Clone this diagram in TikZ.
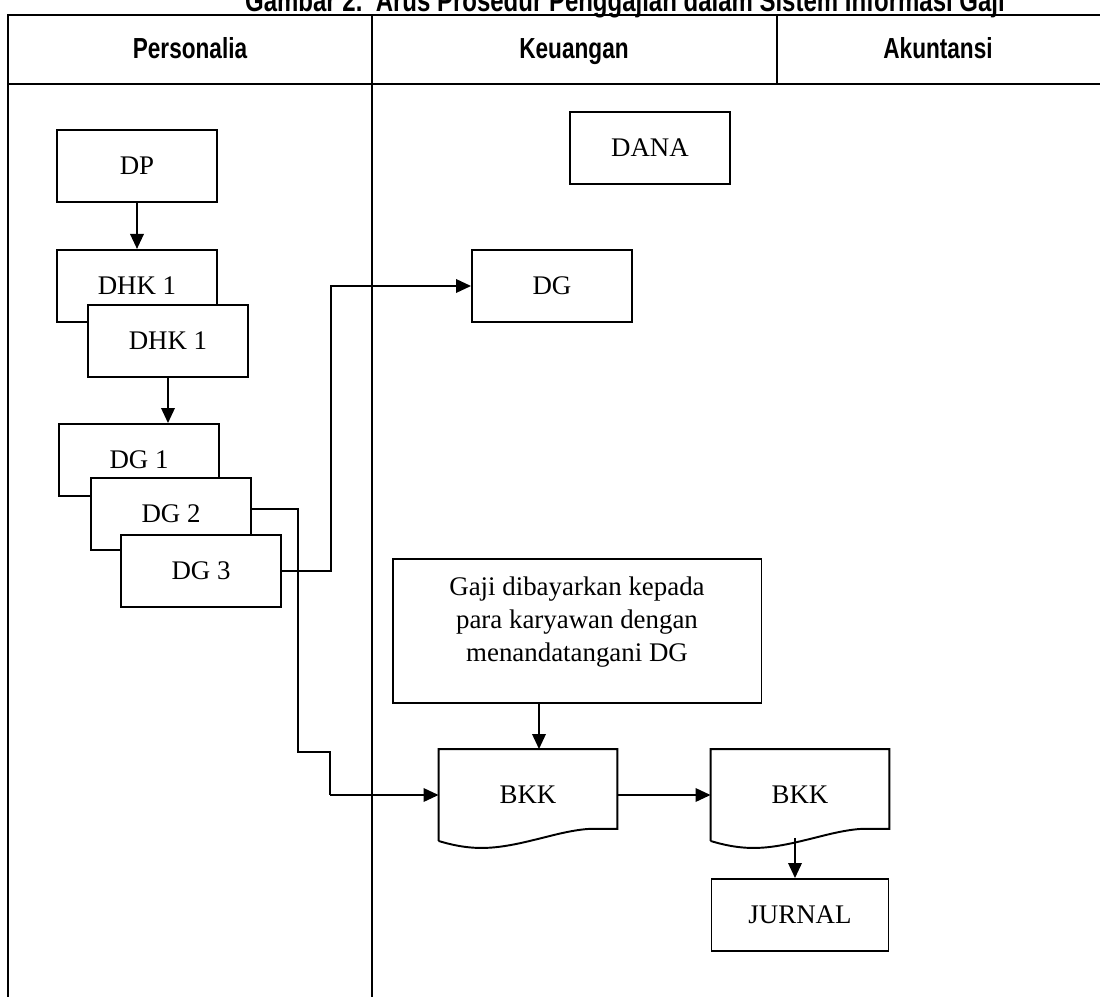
\documentclass[tikz,border=0pt]{standalone}
\usepackage{fontspec}
\setmainfont{Liberation Serif}
\newfontfamily\judulfont[FakeStretch=0.78]{Liberation Sans}
\usetikzlibrary{arrows.meta,positioning,calc}

\tikzset{
  garis/.style={line width=1.1pt},
  kotak/.style={draw,garis,fill=white,minimum width=3.2cm,minimum height=1.44cm,
    inner sep=0pt,font=\fontsize{15.3}{18.8}\selectfont},
  dokumen/.style={kotak,draw=none,fill=none,minimum width=3.54cm,minimum height=1.8cm},
  kolom/.style={anchor=base,font=\judulfont\bfseries\fontsize{16.5}{19}\selectfont},
  tabel/.style={line width=1.7pt},
  panah/.style={garis,-{Triangle[length=0.3cm,width=0.27cm]}}
}

% dokumen shape: flat top, wavy bottom
\newcommand{\dokumenbentuk}[1]{%
  \draw[garis] (#1.south west) -- (#1.north west) -- (#1.north east)
    -- ($(#1.south east)+(0,-12)$) -- ($(#1.south west)+(150,-12)$)
    .. controls ($(#1.south west)+(118,-10)$) and ($(#1.south west)+(80,7)$) .. ($(#1.south west)+(43,7)$)
    .. controls ($(#1.south west)+(25,7)$) and ($(#1.south west)+(10,3)$) .. (#1.south west);
}

\begin{document}
\begin{tikzpicture}[x=0.02cm,y=-0.02cm]
\useasboundingbox (0,0) rectangle (1100,997);

% judul dan tabel
\node[kolom,font=\judulfont\bfseries\fontsize{17.5}{20}\selectfont] (judul) at (625,12)
  {Gambar 2.\ \ Arus Prosedur Penggajian dalam Sistem Informasi Gaji};
\draw[tabel] (1100,15) -- (8,15) -- (8,997);
\draw[tabel] (8,84) -- (1100,84);
\draw[tabel] (372,15) -- (372,997);
\draw[tabel] (777,15) -- (777,84);
\node[kolom] (personalia) at (190,59) {Personalia};
\node[kolom] (keuangan) at (574,59) {Keuangan};
\node[kolom] (akuntansi) at (938,59) {Akuntansi};

% personalia
\node[kotak] (dp) at (137,166) {DP};
\node[kotak,below=0.92cm of dp] (dhka) {DHK 1};
\node[kotak] (dhkb) at ([shift={(31,55)}]dhka) {DHK 1};
\node[kotak] (dga) at (139,460) {DG 1};
\node[kotak] (dgb) at ([shift={(32,54)}]dga) {DG 2};
\node[kotak] (dgc) at ([shift={(30,57)}]dgb) {DG 3};

% keuangan
\node[kotak] (dana) at (650,148) {DANA};
\node[kotak] (dg) at (552,286) {DG};
\node[kotak,minimum width=7.38cm,minimum height=2.88cm,align=center] (gaji) at (577,631)
  {Gaji dibayarkan kepada\\para karyawan dengan\\menandatangani DG\\[-5pt]};
\node[dokumen] (bkka) at (528,795) {BKK};
\dokumenbentuk{bkka}

% akuntansi
\node[dokumen] (bkkb) at (800,795) {BKK};
\dokumenbentuk{bkkb}
\node[kotak,minimum width=3.54cm] (jurnal) at (800,915) {JURNAL};

% alur
\draw[panah] (dp) -- (dhka);
\draw[panah] (dhkb.south) -- (dhkb.south |- dga.north);
\draw[panah] (dgc.east) -- ++(49,0) |- (dg.west);
\coordinate (belok) at (298,752);
\draw[garis,line width=0.9pt] (dgb.east |- 0,509) -| (belok) -| (330,795);
\draw[panah] (330,795) -- (bkka.west);
\draw[panah] ([xshift=0.22cm]bkka.north |- gaji.south) -- ([xshift=0.22cm]bkka.north);
\draw[panah] (bkka.east) -- (bkkb.west);
\draw[panah] ([xshift=-0.1cm]bkkb.south) ++(0,-3) -- ([xshift=-0.1cm]jurnal.north);
\end{tikzpicture}
\end{document}
